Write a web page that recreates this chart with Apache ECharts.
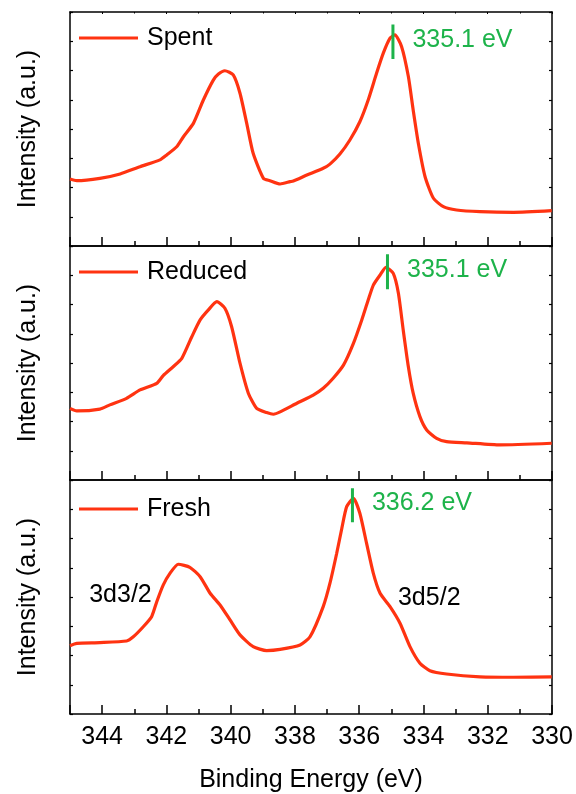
<!DOCTYPE html>
<html>
<head>
<meta charset="utf-8">
<script src="https://cdn.jsdelivr.net/npm/echarts@6/dist/echarts.min.js"></script>
<style>
html,body{margin:0;padding:0;background:#fff;}
#c{width:576px;height:794px;}
</style>
</head>
<body>
<div id="c"></div>
<script>
// ---- data ----
const spentEnergy = [345.00,344.79,344.07,343.44,342.82,342.20,341.99,341.68,341.47,341.16,340.85,340.54,340.38,340.18,339.92,339.71,339.50,339.30,338.98,338.78,338.46,338.15,338.05,337.63,337.12,336.91,336.60,336.29,335.98,335.72,335.46,335.25,335.04,334.89,334.68,334.47,334.32,334.16,333.95,333.69,333.38,332.97,332.24,331.20,330.01];
const spentIntensity = [28.6,27.9,28.9,30.8,33.9,36.8,38.9,42.4,46.7,52.4,62.4,70.9,73.5,74.9,73.1,65.3,52.4,39.6,28.9,27.9,26.5,27.5,27.8,30.3,33.2,35.0,39.3,45.3,53.1,62.4,73.8,82.4,88.8,90.2,85.2,72.4,58.1,43.9,29.6,20.4,16.8,15.4,14.7,14.4,15.1];

const reducedEnergy = [345.00,344.79,344.07,343.76,343.24,342.82,342.30,342.10,341.79,341.52,341.21,340.95,340.70,340.43,340.18,339.97,339.71,339.45,339.19,338.88,338.67,338.46,337.94,337.43,337.12,336.81,336.49,336.18,335.92,335.72,335.56,335.35,335.17,334.94,334.78,334.63,334.47,334.32,334.11,333.90,333.59,333.28,332.65,331.62,330.01];
const reducedIntensity = [30.6,29.5,30.3,32.1,34.9,38.5,41.3,44.6,48.4,52.0,61.2,68.4,72.6,76.2,73.4,65.5,49.9,37.1,30.6,28.8,28.1,29.1,32.8,36.3,39.2,43.5,49.1,58.4,68.4,76.9,83.3,87.6,90.9,88.3,79.8,64.1,48.4,37.1,27.1,21.4,17.8,16.4,15.9,15.0,15.7];

const freshEnergy = [345.00,344.79,344.07,343.24,343.03,342.72,342.46,342.30,342.10,341.89,341.63,341.27,340.95,340.64,340.33,340.02,339.71,339.30,338.88,338.46,337.84,337.53,337.12,336.91,336.70,336.54,336.39,336.18,335.98,335.77,335.56,335.35,335.04,334.73,334.42,334.11,333.80,333.28,332.24,331.20,330.01];
const freshIntensity = [29.2,30.2,30.5,31.2,33.0,37.3,41.6,48.0,55.1,60.1,64.0,62.7,58.7,51.6,46.6,40.2,33.8,28.8,27.1,27.6,29.5,33.0,45.9,55.9,68.7,79.4,88.6,92.2,85.8,72.9,60.1,51.6,45.9,38.8,28.8,21.7,18.5,17.1,15.9,15.7,15.9];

const sampleNames = ['Spent','Reduced','Fresh'];
const peakEnergies = [334.95, 335.12, 336.21];
const peakLabels = ['335.1 eV','335.1 eV','336.2 eV'];
const markerLow = [79.9, 81.5, 81.9];
const markerHigh = [94.7, 96.5, 96.5];
const orbitalLabels = ['3d3/2','3d5/2'];
const orbitalPos = [[343.43,50.9],[333.82,49.4]];

// ---- chart ----
const RED = '#FF3311', GREEN = '#1DB34A';
const FONT = 'Liberation Sans, Arial, Helvetica, sans-serif';
const FS = 25;
const tops = [12, 246, 480];
const H = 234;
const energies = [spentEnergy, reducedEnergy, freshEnergy];
const intens = [spentIntensity, reducedIntensity, freshIntensity];
const zip = (a,b) => a.map((v,i)=>[v,b[i]]);

const grid = [], xAxis = [], yAxis = [], series = [], legend = [];
const legendTops = [25, 259, 496];
for (let g = 0; g < 3; g++) {
  grid.push({left:70, width:482, top:tops[g], height:H});
  xAxis.push({
    type:'value', gridIndex:g, min:330, max:345, interval:2, inverse:true,
    axisLine:{show:true, onZero:false, lineStyle:{color:'#000', width:1.5}},
    axisTick:{show:true, inside:true, length:9, lineStyle:{color:'#000', width:1.5}},
    minorTick:{show:true, splitNumber:2, length:5, lineStyle:{color:'#000', width:1.5}},
    splitLine:{show:false}, minorSplitLine:{show:false},
    axisLabel:{show:g===2, color:'#000', fontSize:FS, fontFamily:FONT, margin:11},
    name: g===2 ? 'Binding Energy (eV)' : '', nameLocation:'middle', nameGap:54,
    nameTextStyle:{color:'#000', fontSize:FS, fontFamily:FONT}
  });
  xAxis.push({
    type:'value', gridIndex:g, min:330, max:345, interval:2, inverse:true, position:'top',
    axisLine:{show:true, onZero:false, lineStyle:{color:'#000', width:1.5}},
    axisTick:{show:g===0, inside:true, length:2, lineStyle:{color:'#000', width:1}},
    minorTick:{show:g===0, splitNumber:2, length:1.5, lineStyle:{color:'#000', width:1}},
    splitLine:{show:false}, axisLabel:{show:false}
  });
  yAxis.push({
    type:'value', gridIndex:g, min:0, max:100, interval:12.5,
    axisLine:{show:true, onZero:false, lineStyle:{color:'#000', width:1.5}},
    axisTick:{show:true, inside:true, length:3, lineStyle:{color:'#000', width:1.2}},
    splitLine:{show:false}, axisLabel:{show:false},
    name:'Intensity (a.u.)', nameLocation:'middle', nameGap:29,
    nameTextStyle:{color:'#000', fontSize:FS, fontFamily:FONT}
  });
  yAxis.push({
    type:'value', gridIndex:g, min:0, max:100, interval:12.5, position:'right',
    axisLine:{show:true, onZero:false, lineStyle:{color:'#000', width:1.5}},
    axisTick:{show:true, inside:true, length:3, lineStyle:{color:'#000', width:1.2}},
    splitLine:{show:false}, axisLabel:{show:false}
  });
  legend.push({
    data:[sampleNames[g]], left:79, top:legendTops[g], icon:'rect',
    itemWidth:59, itemHeight:3, padding:0,
    textStyle:{color:'#000', fontSize:FS, fontFamily:FONT, padding:[0,0,0,4], lineHeight:26}
  });
  series.push({
    type:'line', name:sampleNames[g], xAxisIndex:2*g, yAxisIndex:2*g,
    data: zip(energies[g], intens[g]), showSymbol:false, smooth:0.2,
    lineStyle:{color:RED, width:3.2}, itemStyle:{color:RED}, silent:true, z:3
  });
  series.push({
    type:'line', name:'marker'+g, xAxisIndex:2*g, yAxisIndex:2*g,
    data:[[peakEnergies[g], markerLow[g]],[peakEnergies[g], markerHigh[g]]],
    showSymbol:false, lineStyle:{color:GREEN, width:3}, silent:true, z:4
  });
  series.push({
    type:'scatter', name:'plabel'+g, xAxisIndex:2*g, yAxisIndex:2*g,
    data:[[peakEnergies[g], (markerLow[g]+markerHigh[g])/2]], symbolSize:1,
    itemStyle:{color:'rgba(0,0,0,0)', opacity:1}, silent:true,
    label:{show:true, position:'right', distance:19, offset:[0,-2], formatter:peakLabels[g],
      color:GREEN, fontSize:FS, fontFamily:FONT, opacity:1}
  });
}
series.push({
  type:'scatter', name:'orbitals', xAxisIndex:4, yAxisIndex:4,
  data: orbitalPos.map((p,i)=>({value:p, label:{formatter:orbitalLabels[i]}})),
  symbolSize:1, itemStyle:{color:'rgba(0,0,0,0)', opacity:1}, silent:true,
  label:{show:true, position:'inside', color:'#000', fontSize:FS, fontFamily:FONT, opacity:1}
});

const chart = echarts.init(document.getElementById('c'), null, {renderer:'canvas'});
chart.setOption({animation:false, backgroundColor:'#fff', grid, xAxis, yAxis, legend, series});
</script>
</body>
</html>
